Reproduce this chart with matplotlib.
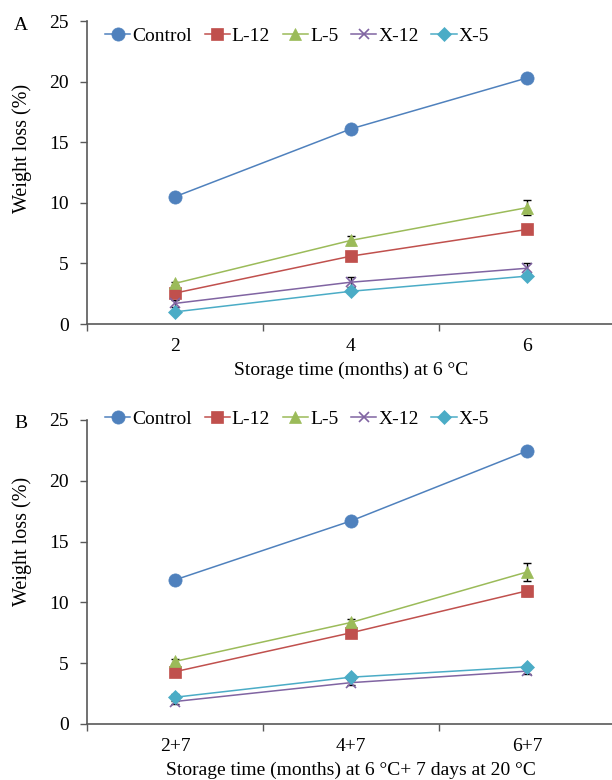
import numpy as np
import matplotlib
matplotlib.use("Agg")
import matplotlib.pyplot as plt

plt.rcParams.update({"font.family": ["Liberation Serif", "DejaVu Serif"],
                     "font.size": 14})

SERIES = ["Control", "L-12", "L-5", "X-12", "X-5"]
COLORS = ["#4F81BD", "#C0504D", "#9BBB59", "#8064A2", "#4BACC6"]
MARKERS = ["o", "s", "^", "x", "D"]
MSIZE = [9.5, 8.5, 9, 7.5, 7.5]

# panel A: storage at 6 C
cats_a = ["2", "4", "6"]
vals_a = [[10.5, 16.1, 20.3],
          [2.55, 5.6, 7.8],
          [3.35, 6.9, 9.6],
          [1.7, 3.45, 4.6],
          [1.0, 2.7, 3.95]]
err_a = [[0.15, 0.2, 0.3],
         [0.1, 0.15, 0.15],
         [0.15, 0.4, 0.6],
         [0.3, 0.4, 0.4],
         [0.1, 0.15, 0.15]]

# panel B: storage + 7 days at 20 C
cats_b = ["2+7", "4+7", "6+7"]
vals_b = [[11.85, 16.7, 22.45],
          [4.3, 7.5, 10.95],
          [5.15, 8.35, 12.5],
          [1.85, 3.4, 4.35],
          [2.2, 3.85, 4.7]]
err_b = [[0.15, 0.25, 0.3],
         [0.15, 0.2, 0.4],
         [0.2, 0.3, 0.7],
         [0.2, 0.2, 0.2],
         [0.3, 0.2, 0.15]]

W, H = 612, 780
fig = plt.figure(figsize=(W / 100, H / 100), dpi=100)

AX = "#595959"


def panel(top, bottom, cats, vals, errs, xlabel, letter, leg_y, ylab_y):
    ax = fig.add_axes([87 / W, 1 - bottom / H, (615 - 87) / W, (bottom - top) / H])
    x = np.arange(1, len(cats) + 1)
    for name, c, m, ms, v, e in zip(SERIES, COLORS, MARKERS, MSIZE, vals, errs):
        ax.errorbar(x, v, yerr=e, fmt="none", ecolor="black", elinewidth=1,
                    capsize=3, capthick=1, zorder=2)
        ax.plot(x, v, color=c, lw=1.1, marker=m, ms=ms, mfc=c, mec=c,
                mew=1.2 if m == "x" else 0.5, label=name, zorder=3)
    ax.set_xlim(0.5, 3.5)
    ax.set_ylim(0, 25)
    ax.set_yticks([0, 5, 10, 15, 20, 25])
    ax.set_xticks(x)
    ax.set_xticklabels(cats)
    ax.set_xticks([0.5, 1.5, 2.5, 3.5], minor=True)
    ax.tick_params(axis="x", which="major", length=0, pad=10)
    ax.tick_params(axis="x", which="minor", length=5, width=1, color=AX)
    ax.tick_params(axis="y", length=5, width=1, color=AX, pad=8)
    for s in ("top", "right"):
        ax.spines[s].set_visible(False)
    for s in ("left", "bottom"):
        ax.spines[s].set_color(AX)
        ax.spines[s].set_linewidth(1.2)
    ax.set_xlabel(xlabel, labelpad=5)
    ax.set_ylabel("Weight loss (%)", fontsize=14.5)
    ax.yaxis.set_label_coords((32 - 87) / 528, ylab_y)
    ax.patch.set_alpha(0)
    fig.text(14 / W, 1 - (top + 4) / H, letter, ha="left", va="center")
    ax.legend(loc="center", bbox_to_anchor=(297 / W, 1 - leg_y / H),
              bbox_transform=fig.transFigure, ncol=5, frameon=False,
              handlelength=1.3, handletextpad=0.1, columnspacing=0.65,
              borderaxespad=0, borderpad=0)
    return ax


panel(21, 324, cats_a, vals_a, err_a, "Storage time (months) at 6 °C", "A", 36, 0.58)
panel(420, 724, cats_b, vals_b, err_b,
      "Storage time (months) at 6 °C+ 7 days at 20 °C", "B", 419, 0.6)

fig.savefig("out.png", dpi=100)
